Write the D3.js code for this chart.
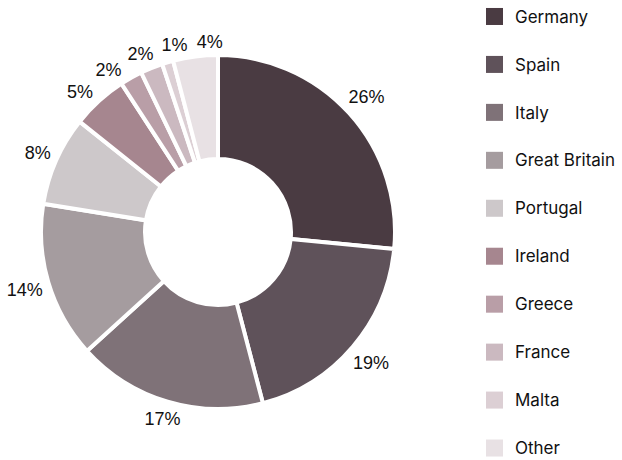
<!DOCTYPE html>
<html><head><meta charset="utf-8">
<script src="https://cdn.jsdelivr.net/npm/d3@7"></script>
<style>
html,body{margin:0;padding:0;background:#fff;}
svg{display:block;}
</style></head>
<body>
<svg id="chart" width="622" height="460"></svg>
<script>
const categories = ["Germany","Spain","Italy","Great Britain","Portugal","Ireland","Greece","France","Malta","Other"];
const values = [26,19,17,14,8,5,2,2,1,4];
const colors = ["#4a3b42","#5f525a","#7f7278","#a59c9f","#cdc8ca","#a6868f","#b99ea7","#cbb9c0","#dccfd4","#e8e1e4"];

const svg = d3.select("#chart");
const cx = 218, cy = 232, outerR = 177, innerR = 73, labelR = 182;
const minGap = 10.5 * Math.PI / 180;

const pie = d3.pie().value(d => d.v).sort(null);
const data = categories.map((c,i) => ({c, v: values[i], col: colors[i]}));
const arcs = pie(data);
const arc = d3.arc().innerRadius(innerR).outerRadius(outerR);

const g = svg.append("g").attr("transform", `translate(${cx},${cy})`);
g.selectAll("path").data(arcs).join("path")
  .attr("d", arc)
  .attr("fill", d => d.data.col)
  .attr("stroke", "#fff")
  .attr("stroke-width", 4)
  .attr("stroke-linejoin", "miter");

// label angles: mid angles, spread so neighbours keep a minimum angular gap (isotonic fit)
const mids = arcs.map(d => (d.startAngle + d.endAngle) / 2);
const shifted = mids.map((m, i) => m - i * minGap);
let blocks = [];
shifted.forEach(v => {
  blocks.push({sum: v, n: 1});
  while (blocks.length > 1) {
    const b = blocks[blocks.length-1], a = blocks[blocks.length-2];
    if (a.sum / a.n > b.sum / b.n) { a.sum += b.sum; a.n += b.n; blocks.pop(); } else break;
  }
});
const fitted = [];
blocks.forEach(b => { for (let k = 0; k < b.n; k++) fitted.push(b.sum / b.n); });
const labelAngles = fitted.map((v, i) => v + i * minGap);

const labels = g.selectAll("text.lbl").data(arcs).join("text")
  .attr("class","lbl")
  .attr("text-anchor","middle")
  .attr("dy","0.35em")
  .attr("font-family","'Liberation Sans', Arial, sans-serif")
  .attr("font-size", 18)
  .attr("fill","#111")
  .text(d => d.data.v + "%");

labels.each(function(d, i) {
  const a = labelAngles[i];
  const sx = Math.sin(a), sy = -Math.cos(a);
  const w = this.getComputedTextLength();
  const h = 16;
  const ext = Math.abs(sx) * w / 2 + Math.abs(sy) * h / 2;
  const r = labelR + ext;
  d3.select(this).attr("transform", `translate(${sx * r},${sy * r})`);
});

const legendY = d3.scaleBand().domain(categories).range([-7.5, 472]);
const lg = svg.append("g");
const row = lg.selectAll("g").data(data).join("g")
  .attr("transform", d => `translate(486,${legendY(d.c) + legendY.bandwidth()/2})`);
row.append("rect").attr("x",0).attr("y",-8.5).attr("width",17).attr("height",17).attr("fill", d => d.col);
row.append("text").attr("x",29).attr("y",0).attr("dy","0.36em")
  .attr("font-family","Inter, 'Noto Sans', sans-serif")
  .attr("font-size",17)
  .attr("fill","#111")
  .text(d => d.c);
</script>
</body></html>
